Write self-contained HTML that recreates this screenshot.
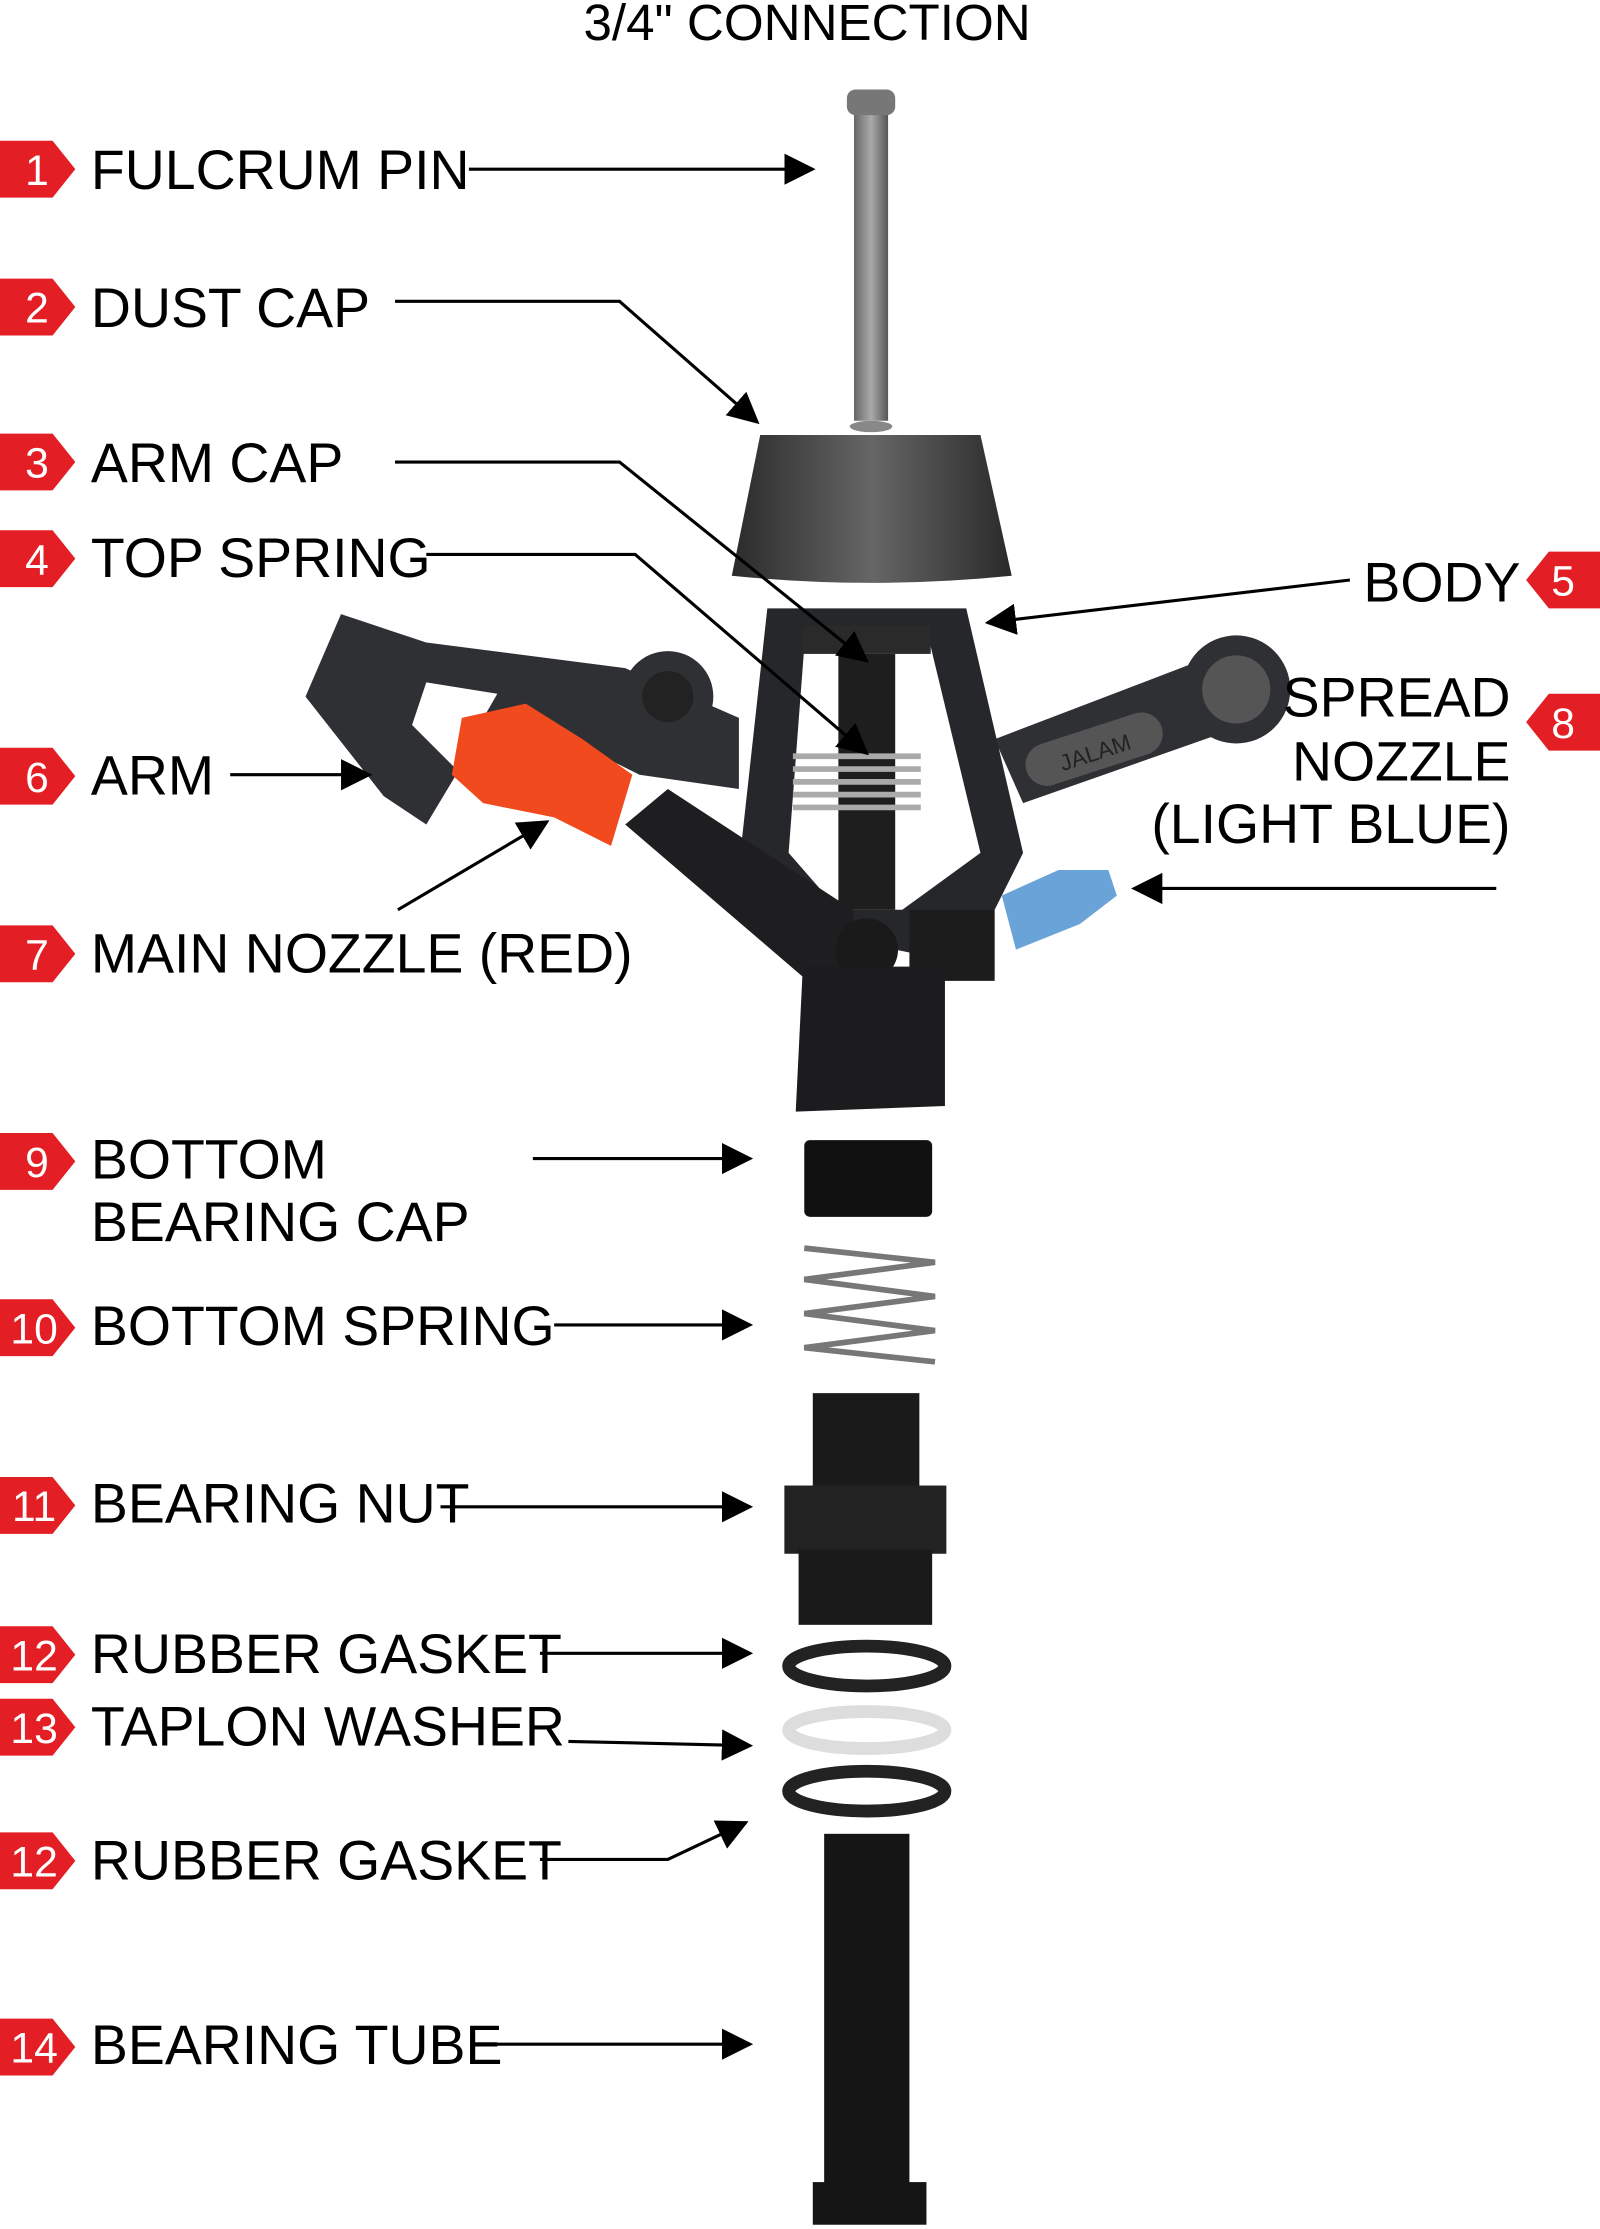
<!DOCTYPE html>
<html><head><meta charset="utf-8"><style>
html,body{margin:0;padding:0;background:#fff;}
svg{display:block;}
text{font-family:"Liberation Sans",Arial,sans-serif;}
.l{font-size:39px;fill:#000;}
.n{font-size:30px;fill:#fff;text-anchor:middle;}
.ln{stroke:#000;stroke-width:2.2;fill:none;}
</style></head><body>
<svg width="1600" height="2229" viewBox="0 0 1126 1568" preserveAspectRatio="none" xmlns="http://www.w3.org/2000/svg">
<defs>
<marker id="a" markerWidth="10" markerHeight="10" refX="9" refY="5" orient="auto" markerUnits="userSpaceOnUse" viewBox="0 0 10 10"><path d="M0,0 L10,5 L0,10z" fill="#000" transform="scale(1)"/></marker>
<marker id="b" markerWidth="22" markerHeight="22" refX="20" refY="11" orient="auto" markerUnits="userSpaceOnUse"><path d="M0,0 L22,11 L0,22z" fill="#000"/></marker>
<linearGradient id="pg" x1="0" x2="1"><stop offset="0" stop-color="#666"/><stop offset=".5" stop-color="#aaa"/><stop offset="1" stop-color="#555"/></linearGradient>
<linearGradient id="cg" x1="0" x2="1"><stop offset="0" stop-color="#2a2a2a"/><stop offset=".5" stop-color="#666"/><stop offset="1" stop-color="#2a2a2a"/></linearGradient>
</defs>
<text x="568" y="28" font-size="36" text-anchor="middle">3/4" CONNECTION</text>

<!-- sprinkler drawing -->
<rect x="601" y="68" width="24" height="228" fill="url(#pg)"/>
<rect x="596" y="63" width="34" height="18" rx="6" fill="#777"/>
<ellipse cx="613" cy="300" rx="15" ry="4" fill="#888"/>
<path d="M535,306 L690,306 L712,405 Q613,415 515,405 Z" fill="url(#cg)"/>
<!-- left arm -->
<path d="M240,432 L300,452 L440,470 L520,505 L520,555 L450,545 L400,520 L330,530 L300,580 L270,560 L215,490 Z" fill="#2e3033"/>
<path d="M300,480 L350,488 L320,540 L290,510 Z" fill="#fff"/>
<circle cx="470" cy="490" r="32" fill="#2e3033"/>
<circle cx="470" cy="490" r="18" fill="#222"/>
<!-- right arm -->
<path d="M700,520 L870,455 L900,470 L905,500 L720,565 Z" fill="#2e3033"/>
<circle cx="870" cy="485" r="38" fill="#2e3033"/>
<circle cx="870" cy="485" r="24" fill="#555"/>
<rect x="720" y="512" width="100" height="30" rx="15" fill="#555" transform="rotate(-18 770 527)"/>
<text x="770" y="535" font-size="16" text-anchor="middle" fill="#222" transform="rotate(-18 770 527)">JALAM</text>
<!-- body frame -->
<path d="M540,428 L680,428 L720,600 L700,640 L640,670 L590,660 L520,610 Z" fill="#25272a"/>
<path d="M566,455 L655,455 L690,600 L635,640 L590,640 L555,600 Z" fill="#fff"/>
<rect x="565" y="440" width="90" height="20" fill="#2a2a2a"/>
<rect x="590" y="460" width="40" height="180" fill="#1e1e1e"/>
<g stroke="#aaa" stroke-width="4">
<line x1="558" y1="532" x2="648" y2="532"/><line x1="558" y1="541" x2="648" y2="541"/><line x1="558" y1="550" x2="648" y2="550"/><line x1="558" y1="559" x2="648" y2="559"/><line x1="558" y1="568" x2="648" y2="568"/></g>
<!-- lower pipes -->
<path d="M440,580 L470,555 L600,640 L610,700 L580,700 Z" fill="#1e1e20"/>
<circle cx="610" cy="668" r="22" fill="#1a1a1a"/>
<rect x="640" y="640" width="60" height="50" fill="#1c1c1c"/>
<path d="M565,680 L665,680 L665,778 L560,782 Z" fill="#1c1c1e"/>
<!-- red nozzle -->
<path d="M325,505 L370,495 L410,520 L445,545 L430,595 L390,575 L340,565 L318,545 Z" fill="#f04a1e"/>
<!-- blue nozzle -->
<path d="M705,630 L745,612 L780,612 L786,630 L760,650 L715,668 Z" fill="#6aa3d8"/>
<!-- bottom parts -->
<rect x="566" y="802" width="90" height="54" rx="4" fill="#111"/>
<path d="M566,878 L658,888 L566,900 L658,912 L566,924 L658,936 L566,948 L658,958" stroke="#777" stroke-width="4" fill="none"/>
<rect x="572" y="980" width="75" height="70" fill="#1a1a1a"/>
<rect x="552" y="1045" width="114" height="48" fill="#222"/>
<rect x="562" y="1090" width="94" height="53" fill="#1a1a1a"/>
<ellipse cx="610" cy="1172" rx="55" ry="14" fill="none" stroke="#222" stroke-width="9"/>
<ellipse cx="610" cy="1217" rx="55" ry="13" fill="none" stroke="#ddd" stroke-width="9"/>
<ellipse cx="610" cy="1260" rx="55" ry="14" fill="none" stroke="#222" stroke-width="9"/>
<rect x="580" y="1290" width="60" height="250" fill="#151515"/>
<rect x="572" y="1535" width="80" height="30" fill="#151515"/>

<!-- connectors -->
<g class="ln">
<line x1="330" y1="119" x2="572" y2="119" marker-end="url(#b)"/>
<polyline points="278,212 436,212 533,297" marker-end="url(#b)"/>
<polyline points="278,325 436,325 610,465" marker-end="url(#b)"/>
<polyline points="300,390 447,390 610,530" marker-end="url(#b)"/>
<line x1="950" y1="408" x2="695" y2="438" marker-end="url(#b)"/>
<line x1="1053" y1="625" x2="798" y2="625" marker-end="url(#b)"/>
<line x1="162" y1="545" x2="260" y2="545" marker-end="url(#b)"/>
<line x1="280" y1="640" x2="385" y2="578" marker-end="url(#b)"/>
<line x1="375" y1="815" x2="528" y2="815" marker-end="url(#b)"/>
<line x1="390" y1="932" x2="528" y2="932" marker-end="url(#b)"/>
<line x1="310" y1="1060" x2="528" y2="1060" marker-end="url(#b)"/>
<line x1="380" y1="1163" x2="528" y2="1163" marker-end="url(#b)"/>
<polyline points="400,1225 528,1228" marker-end="url(#b)"/>
<polyline points="380,1308 470,1308 525,1282" marker-end="url(#b)"/>
<line x1="340" y1="1438" x2="528" y2="1438" marker-end="url(#b)"/>
</g>

<!-- badges left -->
<g fill="#e31e24">
<path d="M0,99 L37,99 L53,119 L37,139 L0,139Z"/>
<path d="M0,196 L37,196 L53,216 L37,236 L0,236Z"/>
<path d="M0,305 L37,305 L53,325 L37,345 L0,345Z"/>
<path d="M0,373 L37,373 L53,393 L37,413 L0,413Z"/>
<path d="M0,526 L37,526 L53,546 L37,566 L0,566Z"/>
<path d="M0,651 L37,651 L53,671 L37,691 L0,691Z"/>
<path d="M0,797 L37,797 L53,817 L37,837 L0,837Z"/>
<path d="M0,914 L37,914 L53,934 L37,954 L0,954Z"/>
<path d="M0,1039 L37,1039 L53,1059 L37,1079 L0,1079Z"/>
<path d="M0,1144 L37,1144 L53,1164 L37,1184 L0,1184Z"/>
<path d="M0,1195 L37,1195 L53,1215 L37,1235 L0,1235Z"/>
<path d="M0,1289 L37,1289 L53,1309 L37,1329 L0,1329Z"/>
<path d="M0,1420 L37,1420 L53,1440 L37,1460 L0,1460Z"/>
<path d="M1126,388 L1090,388 L1074,408 L1090,428 L1126,428Z"/>
<path d="M1126,488 L1090,488 L1074,508 L1090,528 L1126,528Z"/>
</g>
<text class="n" x="26" y="130">1</text>
<text class="n" x="26" y="227">2</text>
<text class="n" x="26" y="336">3</text>
<text class="n" x="26" y="404">4</text>
<text class="n" x="26" y="557">6</text>
<text class="n" x="26" y="682">7</text>
<text class="n" x="26" y="828">9</text>
<text class="n" x="24" y="945">10</text>
<text class="n" x="24" y="1070">11</text>
<text class="n" x="24" y="1175">12</text>
<text class="n" x="24" y="1226">13</text>
<text class="n" x="24" y="1320">12</text>
<text class="n" x="24" y="1451">14</text>
<text class="n" x="1100" y="419">5</text>
<text class="n" x="1100" y="519">8</text>

<text class="l" x="64" y="133">FULCRUM PIN</text>
<text class="l" x="64" y="230">DUST CAP</text>
<text class="l" x="64" y="339">ARM CAP</text>
<text class="l" x="64" y="406">TOP SPRING</text>
<text class="l" x="64" y="559">ARM</text>
<text class="l" x="64" y="684">MAIN NOZZLE (RED)</text>
<text class="l" x="64" y="829">BOTTOM</text>
<text class="l" x="64" y="873">BEARING CAP</text>
<text class="l" x="64" y="946">BOTTOM SPRING</text>
<text class="l" x="64" y="1071">BEARING NUT</text>
<text class="l" x="64" y="1177">RUBBER GASKET</text>
<text class="l" x="64" y="1228">TAPLON WASHER</text>
<text class="l" x="64" y="1322">RUBBER GASKET</text>
<text class="l" x="64" y="1452">BEARING TUBE</text>
<text class="l" x="1070" y="423" text-anchor="end">BODY</text>
<text class="l" x="1063" y="504" text-anchor="end">SPREAD</text>
<text class="l" x="1063" y="549" text-anchor="end">NOZZLE</text>
<text class="l" x="1063" y="593" text-anchor="end">(LIGHT BLUE)</text>
</svg>
</body></html>
